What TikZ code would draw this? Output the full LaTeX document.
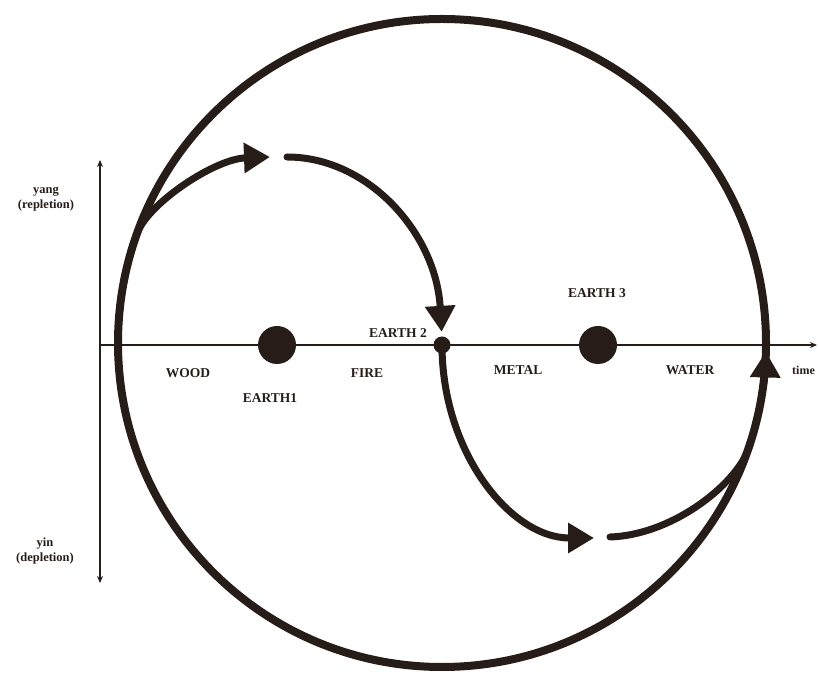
\documentclass[tikz,border=0pt]{standalone}
\usepackage{fontspec}
\setmainfont{Liberation Serif}
\usetikzlibrary{arrows.meta,positioning,calc}
\definecolor{ink}{RGB}{38,28,24}

\begin{document}
\begin{tikzpicture}[
  x=1pt, y=1pt,
  rim/.style={draw=ink, line width=8pt, circle, inner sep=0pt, outer sep=0pt},
  flow/.style={draw=ink, line width=7pt, line cap=round, -{Triangle[length=26pt,width=29pt]}},
  trail/.style={draw=ink, line width=7pt, line cap=round},
  axis/.style={draw=ink, line width=1.6pt},
  dot/.style={circle, fill=ink, inner sep=0pt, minimum size=#1},
  lbl/.style={font=\bfseries\fontsize{13.5}{14}\selectfont, text=ink, inner sep=0pt},
  side/.style={font=\bfseries\fontsize{12.5}{14.5}\selectfont, text=ink, align=center, inner sep=0pt}
]
\useasboundingbox (0,0) rectangle (818,677);

% Axes
\coordinate (O) at (100,332);
\coordinate (tend) at (817,332);
\coordinate (ytop) at (100,517);
\coordinate (ybot) at (100,94);
\draw[axis, -{Stealth[length=7pt,width=6pt]}] (O) -- (tend);
\draw[axis, {Stealth[length=7pt,width=6pt]}-{Stealth[length=7pt,width=6pt]}] (ybot) -- (ytop);

% Cycle
\node[rim, minimum size=648pt] (cycle) at (442,334) {};

% Earth points
\node[dot=38pt] (earth1) at (277,332) {};
\node[dot=17pt] (earth2) at (442,332) {};
\node[dot=38pt] (earth3) at (598,332) {};

% Labels
\node[lbl] (wood) at (188,304) {WOOD};
\node[lbl] (fire) at (367,304) {FIRE};
\node[lbl] (metal) at (518,307) {METAL};
\node[lbl] (water) at (690,307) {WATER};
\node[lbl, font=\bfseries\fontsize{12}{13}\selectfont, anchor=west] (time) at (792,307) {time};
\node[lbl] (e1lbl) at (270,279) {EARTH1};
\node[lbl] (e2lbl) at (398,344) {EARTH 2};
\node[lbl] (e3lbl) at (597,384) {EARTH 3};
\node[side] (yang) at (46,478) {yang\\(repletion)};
\node[side] (yin) at (45,126) {yin\\(depletion)};

% Upper path
\coordinate (upB) at (287,520);
\draw[flow] (cycle.160) .. controls (150,475) and (215,518) .. (270,520);
\draw[flow] (upB) arc[start angle=90, end angle=4, x radius=155, y radius=188];

% Lower path
\coordinate (lowB) at (610,140);
\draw[flow] (earth2.center) arc[start angle=180, end angle=270, x radius=152, y radius=193];
\draw[trail] (lowB) .. controls (670,142) and (730,188) .. (cycle.-20);
\draw[flow] (cycle.-9) arc[start angle=-9, end angle=-1.5, radius=324];

\end{tikzpicture}
\end{document}
